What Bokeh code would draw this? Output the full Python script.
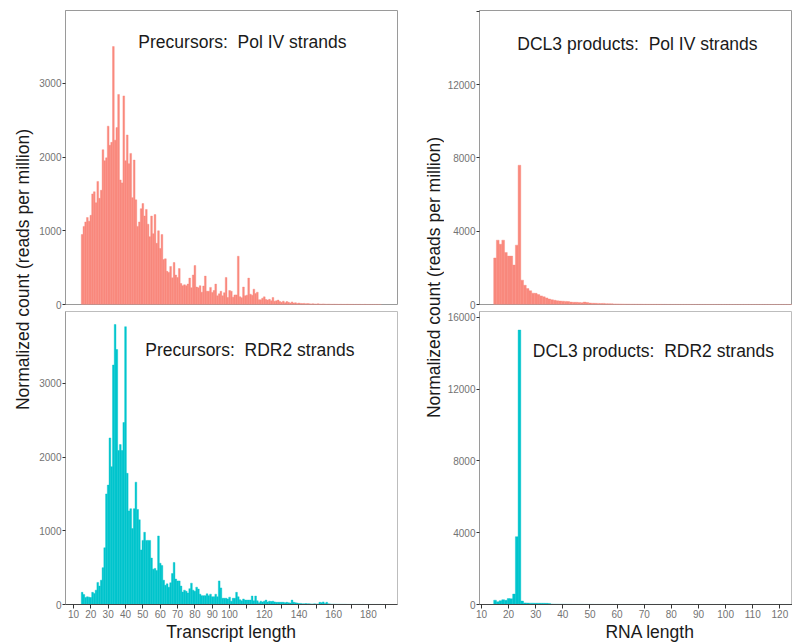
from bokeh.plotting import figure
from bokeh.models import Range1d, FixedTicker, Label, ColumnDataSource
from bokeh.layouts import row, column
from bokeh.embed import file_html
from bokeh.resources import INLINE

# ---------------- data ----------------
precursor_lengths = list(range(15, 188))
polIV_precursors = [
    950, 1060, 1120, 1180, 1130, 1210, 1500, 1530, 1380, 1670,
    1440, 1550, 2100, 1950, 1990, 2420, 2160, 2200, 3500, 2230,
    2400, 2850, 1690, 1650, 2830, 1950, 2300, 1910, 2050, 1450,
    1960, 1420, 1060, 1120, 1300, 1370, 1200, 1290, 1090, 920,
    1200, 960, 1220, 830, 1000, 760, 950, 610, 620, 450,
    435, 516, 362, 570, 400, 367, 488, 285, 255, 268,
    255, 277, 358, 228, 400, 529, 237, 228, 255, 167,
    250, 385, 180, 180, 232, 163, 190, 277, 118, 145,
    180, 118, 160, 367, 95, 190, 180, 100, 130, 130,
    655, 105, 92, 237, 118, 127, 358, 140, 127, 208,
    149, 167, 64, 64, 86, 104, 68, 60, 70, 50,
    95, 45, 50, 60, 40, 30, 45, 25, 40, 30,
    20, 35, 20, 25, 15, 20, 15, 12, 15, 10,
    12, 10, 8, 10, 8, 6, 10, 6, 5, 8,
    5, 4, 5, 4, 3, 4, 3, 3, 2, 3,
    2, 2, 2, 3, 2, 2, 2, 1, 2, 1,
    2, 1, 1, 2, 1, 1, 1, 1, 1, 1,
    1, 1, 1,
]
rdr2_precursors = [
    165, 135, 95, 105, 100, 95, 165, 150, 195, 300,
    250, 330, 500, 770, 1500, 1620, 2260, 1870, 3250, 3800,
    3460, 2090, 2170, 2090, 2470, 3770, 1780, 1270, 1300, 1030,
    1300, 1660, 1290, 1150, 740, 870, 980, 870, 870, 870,
    630, 480, 490, 460, 930, 560, 530, 330, 260, 280,
    235, 295, 420, 570, 345, 320, 320, 250, 170, 195,
    180, 155, 215, 290, 195, 180, 235, 210, 140, 120,
    120, 120, 145, 120, 140, 105, 105, 140, 105, 320,
    225, 85, 85, 85, 75, 100, 45, 85, 85, 165,
    105, 65, 50, 75, 60, 60, 60, 60, 115, 50,
    115, 50, 25, 45, 35, 45, 60, 35, 45, 40,
    45, 35, 30, 30, 30, 30, 30, 25, 30, 25,
    20, 60, 30, 25, 20, 15, 15, 10, 10, 12,
    10, 10, 8, 8, 10, 8, 8, 30, 25, 35,
    15, 30, 10, 8, 5, 5, 5, 4, 4, 3,
    3, 3, 3, 2, 2, 2, 2, 2, 2, 2,
    2, 1, 2, 1, 1, 1, 1, 1, 1, 1,
    1, 1, 1,
]
dcl3_lengths = list(range(15, 126))
polIV_dcl3 = [
    2540, 3510, 3290, 3510, 2840, 2640, 2640, 2150, 3240, 7600,
    1330, 1050, 870, 750, 620, 610, 540, 470, 420, 360,
    300, 260, 230, 200, 190, 180, 170, 160, 130, 120,
    120, 110, 100, 130, 110, 80, 70, 65, 60, 55,
    60, 45, 40, 35, 30, 30, 25, 22, 20, 18,
    16, 15, 14, 12, 12, 10, 10, 9, 8, 8,
    7, 7, 6, 6, 5, 5, 5, 5, 4, 4,
    4, 4, 4, 3, 3, 3, 3, 3, 3, 3,
    3, 3, 3, 3, 2, 2, 2, 2, 2, 2,
    2, 2, 2, 2, 2, 2, 2, 2, 2, 2,
    2, 2, 2, 2, 2, 2, 2, 2, 2, 2, 2,
]
rdr2_dcl3 = [
    240, 150, 210, 270, 230, 330, 320, 580, 3780, 15300,
    190, 90, 80, 75, 75, 70, 70, 70, 70, 65,
    60, 25, 20, 18, 15, 15, 14, 12, 12, 10,
    10, 9, 9, 8, 8, 7, 7, 6, 6, 6,
    5, 5, 5, 5, 4, 4, 4, 4, 4, 4,
    3, 3, 3, 3, 3, 3, 3, 3, 3, 3,
    3, 2, 2, 2, 2, 2, 2, 2, 2, 2,
    2, 2, 2, 2, 2, 2, 2, 2, 2, 2,
    2, 2, 2, 2, 2, 2, 2, 2, 2, 2,
    2, 2, 2, 2, 2, 2, 2, 2, 2, 2,
    2, 2, 2, 2, 2, 2, 2, 2, 2, 2, 2,
]

precursor_x_ticks = list(range(10, 191, 10))
precursor_x_labels = ["10", "20", "30", "40", "50", "60", "70", "80", "90", "100",
                      "", "120", "", "140", "", "160", "", "180", ""]
dcl3_x_ticks = list(range(10, 131, 10))
dcl3_x_labels = ["10", "20", "30", "40", "50", "60", "70", "80", "90", "100",
                 "110", "120", "130"]
precursor_y_ticks = [0, 1000, 2000, 3000]
precursor_y_labels = ["0", "1000", "2000", "3000"]
dcl3_y_ticks = [0, 4000, 8000, 12000, 16000]
dcl3_top_y_labels = ["0", "4000", "8000", "12000", ""]
dcl3_bottom_y_labels = ["0", "4000", "8000", "12000", "16000"]

y_title = "Normalized count (reads per million)"
title_polIV_precursors = "Precursors: \u00a0Pol IV strands"
title_rdr2_precursors = "Precursors: \u00a0RDR2 strands"
title_polIV_dcl3 = "DCL3 products: \u00a0Pol IV strands"
title_rdr2_dcl3 = "DCL3 products: \u00a0RDR2 strands"
x_title_left = "Transcript length"
x_title_right = "RNA length"

# ---------------- style ----------------
FONT = "Liberation Sans"
SALMON = "#F9897D"
CYAN = "#00C5CD"
TEXT = "#1a1a1a"
TICKTEXT = "#737373"
TITLE_SIZE = "17.5px"
TICK_SIZE = "10px"

XT_H = 22
TOTAL_H = 643
STRIP_L, LEFT_W, STRIP_R, RIGHT_W = 36, 364, 44, 348


def panel(lengths, values, color, x_rng, y_max, y_ticks, y_labels, title,
          tx, ty, width, height, top, bottom, left, right,
          x_ticks=None, x_labels=None, outline="#9a9a9a"):
    p = figure(width=width, height=height, x_range=Range1d(*x_rng),
               y_range=Range1d(0, y_max), toolbar_location=None,
               output_backend="svg", min_border_top=top,
               min_border_bottom=bottom, min_border_left=left,
               min_border_right=right)
    src = ColumnDataSource(dict(length=lengths, count=values))
    p.vbar(x="length", top="count", bottom=0, width=1.0, source=src,
           fill_color=color, line_color=color, line_width=0.4)
    p.xgrid.visible = False
    p.ygrid.visible = False
    p.outline_line_color = outline
    p.outline_line_width = 1
    p.background_fill_color = "white"
    p.border_fill_color = "white"

    ya = p.yaxis[0]
    ya.ticker = FixedTicker(ticks=y_ticks)
    ya.major_label_overrides = {t: l for t, l in zip(y_ticks, y_labels)}
    ya.minor_tick_line_color = None
    ya.major_tick_in = 0
    ya.major_tick_out = 3
    ya.major_tick_line_color = "#333333"
    ya.axis_line_color = "#9a9a9a"
    ya.major_label_text_font = FONT
    ya.major_label_text_font_size = TICK_SIZE
    ya.major_label_text_color = TICKTEXT
    ya.major_label_standoff = 1

    xa = p.xaxis[0]
    if x_ticks is None:
        xa.visible = False
    else:
        xa.ticker = FixedTicker(ticks=x_ticks)
        xa.major_label_overrides = {t: l for t, l in zip(x_ticks, x_labels)}
        xa.minor_tick_line_color = None
        xa.major_tick_in = 0
        xa.major_tick_out = 4
        xa.major_tick_line_color = "#333333"
        xa.axis_line_color = "#444444"
        xa.major_label_text_font = FONT
        xa.major_label_text_font_size = TICK_SIZE
        xa.major_label_text_color = TICKTEXT
        xa.major_label_standoff = 1

    p.add_layout(Label(x=tx, y=ty, text=title, text_align="center",
                       text_baseline="alphabetic", text_font=FONT,
                       text_font_size=TITLE_SIZE, text_color=TEXT))
    return p


def blank(width, height):
    s = figure(width=width, height=height, x_range=Range1d(0, width),
               y_range=Range1d(0, height), toolbar_location=None,
               output_backend="svg", x_axis_type=None, y_axis_type=None,
               min_border=0, min_border_left=0, min_border_right=0,
               min_border_top=0, min_border_bottom=0)
    s.outline_line_color = None
    s.xgrid.visible = False
    s.ygrid.visible = False
    return s


def y_strip(width, lx, ly):
    s = blank(width, TOTAL_H)
    s.add_layout(Label(x=lx, y=ly, text=y_title, angle=90, angle_units="deg",
                       text_align="center", text_baseline="alphabetic",
                       text_font=FONT, text_font_size=TITLE_SIZE, text_color=TEXT))
    return s


def x_strip(width, text, lx):
    s = blank(width, XT_H)
    s.add_layout(Label(x=lx, y=11.5, text=text, text_align="center",
                       text_baseline="alphabetic", text_font=FONT,
                       text_font_size=TITLE_SIZE, text_color=TEXT))
    return s


left_x = (5.4, 196.8)
right_x = (9.27, 124.65)

# left column: panels meet at y = 311
tl = panel(precursor_lengths, polIV_precursors, SALMON, left_x, 3989,
           precursor_y_ticks, precursor_y_labels, title_polIV_precursors,
           107.4, 3555, LEFT_W, 311, 10, 7, 28, 3)
bl = panel(precursor_lengths, rdr2_precursors, CYAN, left_x, 3976,
           precursor_y_ticks, precursor_y_labels, title_rdr2_precursors,
           111.7, 3460, LEFT_W, 310, 0, 17, 28, 3,
           precursor_x_ticks, precursor_x_labels, outline="#bdbdbd")
# right column: panels meet at y = 311
tr = panel(dcl3_lengths, polIV_dcl3, SALMON, right_x, 16044,
           dcl3_y_ticks, dcl3_top_y_labels, title_polIV_dcl3,
           67.5, 14225, RIGHT_W, 311, 10, 7, 33, 0)
br = panel(dcl3_lengths, rdr2_dcl3, CYAN, right_x, 16334,
           dcl3_y_ticks, dcl3_bottom_y_labels, title_rdr2_dcl3,
           73.4, 14132, RIGHT_W, 310, 0, 17, 33, 0,
           dcl3_x_ticks, dcl3_x_labels, outline="#bdbdbd")

xl = x_strip(LEFT_W, x_title_left, 181.6)
xr = x_strip(RIGHT_W, x_title_right, 189.7)

sl = y_strip(STRIP_L, 22.3, TOTAL_H - 269)
sr = y_strip(STRIP_R, 33, TOTAL_H - 277)

layout = row(sl, column(tl, bl, xl), sr, column(tr, br, xr))

open("out.html", "w").write(file_html(layout, INLINE))
